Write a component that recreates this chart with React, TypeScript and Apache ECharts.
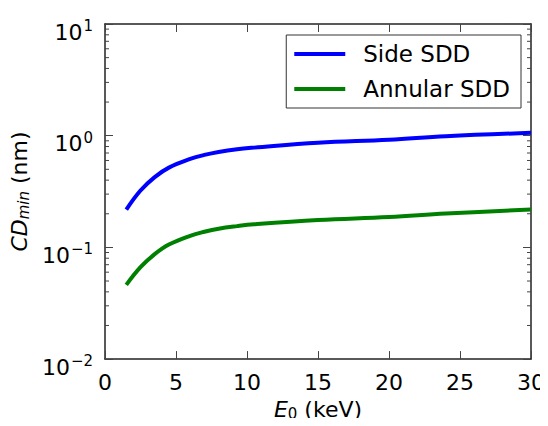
import React, { useEffect, useRef } from 'react';
import * as echarts from 'echarts';

const energyKeV = [1.5, 2.5, 3.5, 4.5, 6, 7, 8, 9.3, 10.5, 15, 20, 24, 30];
const sideSDD = [0.218, 0.323, 0.426, 0.518, 0.619, 0.673, 0.716, 0.757, 0.782, 0.864, 0.92, 0.99, 1.06];
const annularSDD = [0.0462, 0.0665, 0.087, 0.106, 0.127, 0.138, 0.147, 0.155, 0.161, 0.176, 0.187, 0.201, 0.218];
const seriesNames = ['Side SDD', 'Annular SDD'];
const xMin = 0;
const xMax = 30;
const xInterval = 5;
const yMin = 0.01;
const yMax = 10;
const yMinorTicks = [
  0.02, 0.03, 0.04, 0.05, 0.06, 0.07, 0.08, 0.09,
  0.2, 0.3, 0.4, 0.5, 0.6, 0.7, 0.8, 0.9,
  2, 3, 4, 5, 6, 7, 8, 9,
];

const FONT = 'DejaVu Sans';
const FS = 22;
const AXIS_COLOR = '#222';
const TICK_COLOR = '#444';

function superLabel(v: number): string {
  const e = Math.round(Math.log10(v));
  const s = e < 0 ? '\u2212' + Math.abs(e) : String(e);
  return '{b|10}{s|' + s + '}';
}

export default function App() {
  const ref = useRef<HTMLDivElement>(null);
  useEffect(() => {
    if (!ref.current) return;
    const chart = echarts.init(ref.current, undefined, { renderer: 'svg' });
    const pairs = (ys: number[]) => energyKeV.map((x, i) => [x, ys[i]]);
    chart.setOption({
      animation: false,
      backgroundColor: '#fff',
      grid: { left: 104, right: 16, top: 24, bottom: 56, containLabel: false },
      legend: {
        data: seriesNames,
        orient: 'vertical',
        right: 27,
        top: 35,
        backgroundColor: '#fff',
        borderColor: '#333',
        borderWidth: 1,
        borderRadius: 0,
        padding: [7, 11, 7, 8],
        itemGap: 11,
        itemWidth: 51,
        itemHeight: 4,
        icon: 'rect',
        textStyle: { fontFamily: FONT, fontSize: 23, color: '#000', lineHeight: 24, padding: [0, 0, 0, 13] },
      },
      xAxis: [
        {
          type: 'value',
          min: xMin,
          max: xMax,
          interval: xInterval,
          position: 'bottom',
          name: '{i|E}{sub|0} (keV)',
          nameLocation: 'middle',
          nameGap: 36,
          nameTextStyle: {
            fontFamily: FONT,
            fontSize: FS,
            color: '#000',
            rich: {
              i: { fontFamily: FONT, fontSize: FS, fontStyle: 'italic', color: '#000' },
              sub: { fontFamily: FONT, fontSize: 15, color: '#000', padding: [9, 0, 0, 0] },
            },
          },
          axisLine: { show: true, onZero: false, lineStyle: { color: AXIS_COLOR, width: 1.5 } },
          axisTick: { show: true, inside: true, length: 8, lineStyle: { color: TICK_COLOR, width: 1 } },
          axisLabel: { fontFamily: FONT, fontSize: FS, color: '#000', margin: 12 },
          splitLine: { show: false },
        },
        {
          type: 'value',
          min: xMin,
          max: xMax,
          interval: xInterval,
          position: 'top',
          axisLine: { show: true, onZero: false, lineStyle: { color: AXIS_COLOR, width: 1.5 } },
          axisTick: { show: true, inside: true, length: 8, lineStyle: { color: TICK_COLOR, width: 1 } },
          axisLabel: { show: false },
          splitLine: { show: false },
        },
      ],
      yAxis: [
        {
          type: 'log',
          logBase: 10,
          min: yMin,
          max: yMax,
          position: 'left',
          name: '{i|CD}{sub|min} (nm)',
          nameLocation: 'middle',
          nameRotate: 90,
          nameGap: 64,
          nameTextStyle: {
            fontFamily: FONT,
            fontSize: FS,
            color: '#000',
            rich: {
              i: { fontFamily: FONT, fontSize: FS, fontStyle: 'italic', color: '#000' },
              sub: { fontFamily: FONT, fontSize: 15, fontStyle: 'italic', color: '#000', padding: [9, 0, 0, 0] },
            },
          },
          axisLine: { show: true, onZero: false, lineStyle: { color: AXIS_COLOR, width: 1.5 } },
          axisTick: { show: true, inside: true, length: 8, lineStyle: { color: TICK_COLOR, width: 1 } },
          axisLabel: {
            margin: 12,
            formatter: (v: number) => superLabel(v),
            rich: {
              b: { fontFamily: FONT, fontSize: FS, color: '#000', padding: [16, 0, 0, 0] },
              s: { fontFamily: FONT, fontSize: 15, color: '#000', padding: [4, 0, 0, 1] },
            },
          },
          splitLine: { show: false },
        },
        {
          type: 'log',
          logBase: 10,
          min: yMin,
          max: yMax,
          position: 'right',
          axisLine: { show: true, onZero: false, lineStyle: { color: AXIS_COLOR, width: 1.5 } },
          axisTick: { show: true, inside: true, length: 8, lineStyle: { color: TICK_COLOR, width: 1 } },
          axisLabel: { show: false },
          splitLine: { show: false },
        },
      ],
      series: [
        {
          name: seriesNames[0],
          type: 'line',
          data: pairs(sideSDD),
          smooth: 0.4,
          showSymbol: false,
          symbol: 'none',
          lineStyle: { color: '#0000ff', width: 4 },
          itemStyle: { color: '#0000ff' },
        },
        {
          name: seriesNames[1],
          type: 'line',
          data: pairs(annularSDD),
          smooth: 0.4,
          showSymbol: false,
          symbol: 'none',
          lineStyle: { color: '#008000', width: 4 },
          itemStyle: { color: '#008000' },
        },
        {
          name: 'minorTicks',
          type: 'custom',
          silent: true,
          data: yMinorTicks.map((v) => [xMin, v]),
          renderItem: (params: any, api: any) => {
            const v = api.value(1);
            const l = api.coord([xMin, v]);
            const r = api.coord([xMax, v]);
            return {
              type: 'group',
              children: [
                { type: 'line', shape: { x1: l[0], y1: l[1], x2: l[0] + 4, y2: l[1] }, style: { stroke: TICK_COLOR, lineWidth: 1 } },
                { type: 'line', shape: { x1: r[0] - 4, y1: r[1], x2: r[0], y2: r[1] }, style: { stroke: TICK_COLOR, lineWidth: 1 } },
              ],
            };
          },
        },
      ],
    });
    return () => chart.dispose();
  }, []);
  return <div ref={ref} style={{ width: 548, height: 426, margin: -8 }} />;
}
